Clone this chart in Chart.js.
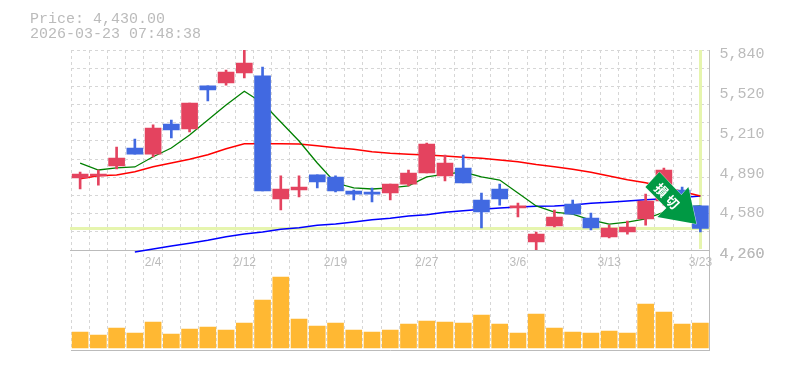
<!DOCTYPE html>
<html><head><meta charset="utf-8">
<style>html,body{margin:0;padding:0;background:#fff}#w{width:785px;height:370px;position:relative}</style>
<script src="https://cdn.jsdelivr.net/npm/chart.js@4"></script></head>
<body><div id="w"><canvas id="c" width="785" height="370"></canvas></div>
<script>
const dates=["1/29","1/30","2/2","2/3","2/4","2/5","2/6","2/9","2/10","2/12","2/13","2/16","2/17","2/18","2/19","2/20","2/24","2/25","2/26","2/27","3/2","3/3","3/4","3/5","3/6","3/9","3/10","3/11","3/12","3/13","3/16","3/17","3/18","3/19","3/23"];
const opens=[4829,4845,4924,5066,5018,5255,5216,5556,5579,5658,5635,4663,4734,4853,4837,4726,4718,4710,4781,4868,4845,4908,4655,4742,4592,4323,4450,4623,4513,4363,4402,4505,4647,4734,4608];
const highs=[4876,4892,5074,5137,5248,5287,5421,5556,5682,5840,5706,4845,4845,4853,4845,4734,4750,4781,4892,5105,5010,5010,4710,4781,4631,4402,4576,4655,4552,4457,4489,4702,4908,4758,4608];
const lows=[4742,4773,4900,5018,4995,5145,5192,5437,5563,5619,4726,4576,4679,4750,4718,4655,4639,4655,4766,4868,4805,4789,4434,4615,4521,4252,4442,4544,4418,4355,4386,4457,4615,4600,4402];
const closes=[4860,4860,4987,5018,5224,5208,5421,5524,5666,5737,4726,4742,4758,4797,4726,4702,4702,4781,4868,5097,4947,4789,4560,4663,4608,4386,4521,4544,4434,4434,4442,4647,4892,4615,4430];
const ma5=[4947,4892,4908,4916,4997,5066,5168,5287,5405,5514,5421,5271,5121,4947,4789,4750,4742,4750,4766,4837,4860,4876,4837,4813,4710,4608,4560,4544,4497,4465,4481,4505,4560,4600,4608];
const ma25=[4823,4847,4853,4879,4918,4947,4977,5013,5060,5100,5100,5100,5097,5084,5068,5056,5037,5024,5016,5010,5003,4992,4984,4971,4958,4935,4918,4898,4874,4845,4815,4792,4758,4722,4687];
const ma75=[null,null,null,4244,4268,4292,4313,4337,4365,4386,4402,4424,4436,4455,4465,4481,4499,4510,4529,4539,4558,4570,4582,4592,4600,4605,4608,4615,4629,4637,4647,4657,4664,4675,4687];
const volumes=[16,13,20,15,26,14,19,21,18,25,48,71,29,22,25,18,16,18,24,27,26,25,33,24,15,34,20,16,15,17,15,44,36,24,25];
const priceLabels=[4260,4580,4890,5210,5520,5840];
const gridDivisions=11;
const priceText="Price: 4,430.00";
const timeText="2026-03-23 07:48:38";
const arrowText=["損","切"];

const UP="#E4435F",DOWN="#4169E1",GRID="#D6D6D6",AXIS="#BBBBBB",TEXT="#BBBBBB",MARK="#E6F5AE",ARROW="#009944";
const MONO='"Liberation Mono", monospace';
const isUp=i=>closes[i]>=opens[i];
const candleColors=dates.map((d,i)=>isUp(i)?UP:DOWN);

const decor={id:'decor',
 beforeDatasetsDraw(ch){
  const {ctx,chartArea:a,scales:{x,y}}=ch;
  ctx.save();
  ctx.strokeStyle=AXIS;ctx.lineWidth=1;
  ctx.beginPath();ctx.moveTo(a.left-1,y.bottom+.5);ctx.lineTo(a.right,y.bottom+.5);ctx.stroke();
  ctx.strokeStyle=MARK;ctx.lineWidth=3;
  const yy=Math.floor(y.getPixelForValue(closes[closes.length-1]))+.5;
  ctx.beginPath();ctx.moveTo(a.left-1,yy);ctx.lineTo(a.right,yy);ctx.stroke();
  const xx=Math.floor(x.getPixelForValue(dates.length-1))+.5;
  ctx.beginPath();ctx.moveTo(xx,a.top);ctx.lineTo(xx,y.bottom-1);ctx.stroke();
  ctx.restore();
 },
 afterDatasetsDraw(ch){
  const {ctx,scales:{x,y}}=ch;
  const tx=x.getPixelForValue(dates.length-1)-4, ty=y.getPixelForValue(closes[closes.length-1])-4.5;
  ctx.save();
  ctx.translate(tx,ty);
  ctx.fillStyle=ARROW;ctx.strokeStyle="rgba(255,255,255,.7)";ctx.lineWidth=1;
  ctx.beginPath();
  [[0,0],[-39,-7],[-30,-16],[-51,-37],[-37,-52],[-15,-29],[-8,-37]].forEach((p,i)=>i?ctx.lineTo(p[0],p[1]):ctx.moveTo(p[0],p[1]));
  ctx.closePath();ctx.stroke();ctx.fill();
  ctx.fillStyle="#fff";ctx.font='bold 13px "Noto Sans CJK JP"';ctx.textAlign='center';ctx.textBaseline='middle';
  [[-35,-34],[-24,-22]].forEach((p,i)=>{ctx.save();ctx.translate(p[0],p[1]);ctx.rotate(Math.PI/4);ctx.fillText(arrowText[i],0,0);ctx.restore();});
  ctx.restore();
  ctx.save();
  ctx.fillStyle=TEXT;ctx.font='15px '+MONO;ctx.textAlign='left';ctx.textBaseline='alphabetic';
  ctx.fillText(priceText,30,23);ctx.fillText(timeText,30,38);
  ctx.restore();
 }};

new Chart(document.getElementById('c'),{
 data:{labels:dates,datasets:[
  {type:'line',label:'MA5',data:ma5,yAxisID:'y',borderColor:'#008000',borderWidth:1.3,pointRadius:0,tension:0,clip:false,order:5},
  {type:'line',label:'MA25',data:ma25,yAxisID:'y',borderColor:'#FF0000',borderWidth:1.5,pointRadius:0,tension:0,clip:false,order:5},
  {type:'line',label:'MA75',data:ma75,yAxisID:'y',borderColor:'#0000FF',borderWidth:1.5,pointRadius:0,tension:0,clip:false,order:5},
  {type:'bar',label:'Wick',data:dates.map((d,i)=>[lows[i],highs[i]]),yAxisID:'y',backgroundColor:candleColors,barThickness:2,grouped:false,order:3},
  {type:'bar',label:'Body',data:dates.map((d,i)=>[opens[i],closes[i]]),yAxisID:'y',backgroundColor:candleColors,barThickness:16,grouped:false,order:2},
  {type:'bar',label:'Volume',data:volumes,yAxisID:'vol',backgroundColor:'#FFB833',barThickness:16,grouped:false,order:4}
 ]},
 options:{responsive:false,animation:false,
  layout:{padding:{left:71,top:50,right:0,bottom:20}},
  plugins:{legend:{display:false},tooltip:{enabled:false},title:{display:false}},
  scales:{
   x:{type:'category',offset:true,
    afterFit(s){s.height=0;s.paddingLeft=0;s.paddingRight=0;s.paddingTop=0;s.paddingBottom=0},
    grid:{offset:true,color:GRID,drawTicks:false,lineWidth:1},
    border:{display:true,color:AXIS,dash:[3,3]},
    ticks:{autoSkip:false,maxRotation:0,minRotation:0,mirror:true,color:TEXT,font:{family:'"Liberation Sans"',size:12},padding:80,
     callback(v,i){return i%5===4?this.getLabelForValue(v):''}}},
   y:{type:'linear',position:'right',stack:'main',stackWeight:2,min:priceLabels[0],max:priceLabels[priceLabels.length-1],
    afterFit(s){s.width=75.5},
    afterBuildTicks(s){
     const step=(s.max-s.min)/gridDivisions,t=[];
     for(let i=0;i<gridDivisions;i++)t.push({value:s.min+step*i,grid:true});
     priceLabels.forEach(v=>t.push({value:v,label:true}));
     t.sort((a,b)=>a.value-b.value);
     s.ticks=t;
    },
    grid:{drawTicks:false,lineWidth:1,color(c){return c.tick&&c.tick.grid?GRID:(c.tick&&c.tick.value===priceLabels[priceLabels.length-1]?GRID:'rgba(0,0,0,0)')}},
    border:{display:true,color:AXIS,dash:[3,3]},
    ticks:{autoSkip:false,color:TEXT,font:{family:MONO,size:15},padding:10,labelOffset:4,
     callback(v){return priceLabels.includes(v)?v.toLocaleString('en-US'):''}}},
   vol:{type:'linear',position:'right',stack:'main',stackWeight:1,min:-2,max:98,
    afterFit(s){s.width=75.5},
    grid:{display:false},
    border:{display:true,color:AXIS},
    ticks:{display:false}}
  }},
 plugins:[decor]
});
</script></body></html>
